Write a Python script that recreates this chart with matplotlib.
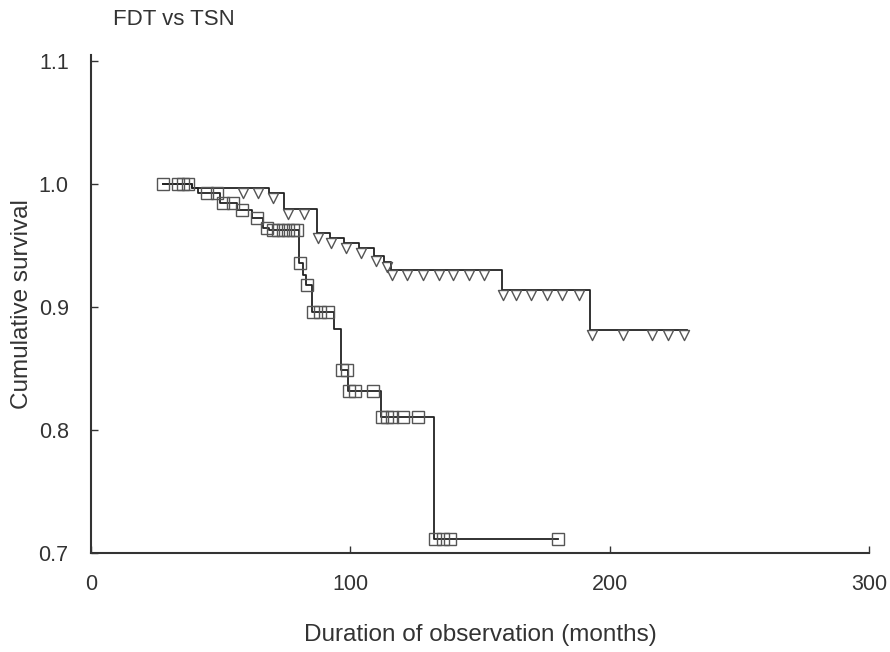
import numpy as np
import matplotlib.pyplot as plt
from matplotlib.path import Path

plt.rcParams['font.family'] = ['Liberation Sans', 'DejaVu Sans']

# group plotted with squares
sq_start = 27.8
sq_end = 180.1
sq_step_t = [39.0, 41.3, 49.7, 56.3, 62.1, 66.3, 68.8, 80.3, 81.8, 83.0,
             85.4, 93.7, 96.6, 99.3, 111.8, 132.3]
sq_step_s = [0.9967, 0.9927, 0.9846, 0.9789, 0.9724, 0.9642, 0.9626, 0.9358,
             0.9260, 0.9179, 0.8959, 0.8821, 0.8488, 0.8317, 0.8106, 0.7114]
sq_cens = [27.8, 33.6, 35.5, 37.4, 44.7, 48.6, 50.9, 54.8, 58.2, 64.0, 67.9,
           70.2, 72.1, 74.0, 76.0, 77.9, 79.4, 80.6, 83.3, 85.8, 88.3, 91.4,
           96.9, 98.7, 99.6, 101.8, 108.8, 112.2, 114.2, 116.1, 120.3, 126.1,
           132.7, 135.8, 138.4, 180.1]

# group plotted with triangles
tr_start = 27.8
tr_end = 229.8
tr_step_t = [39.0, 68.5, 74.5, 87.0, 92.0, 97.5, 103.5, 109.0, 113.0, 115.8,
             158.5, 192.4]
tr_step_s = [0.9967, 0.9927, 0.9797, 0.9602, 0.9561, 0.9520, 0.9480, 0.9415,
             0.9366, 0.9301, 0.9138, 0.8813]
tr_cens = [58.6, 64.4, 70.0, 76.0, 82.0, 87.5, 92.5, 98.3, 104.0, 110.0,
           114.0, 116.1, 121.9, 128.0, 134.2, 139.6, 145.8, 151.6, 158.8,
           164.0, 169.7, 175.9, 181.6, 188.2, 193.2, 205.2, 216.4, 222.5, 228.7]

yticks = [0.7, 0.8, 0.9, 1.0, 1.1]
ytick_labels = ['0.7', '0.8', '0.9', '1.0', '1.1']
xticks = [0, 100, 200, 300]


def km_line(start, end, step_t, step_s):
    x = np.array([start] + step_t + [end])
    y = np.array([1.0] + step_s + [step_s[-1]])
    return x, y


def level_at(x, y, t):
    i = np.searchsorted(x, t, side='right') - 1
    return y[np.clip(i, 0, len(y) - 1)]


fig = plt.figure(figsize=(8.9, 6.52), dpi=100)
ax = fig.add_axes([0.1022, 0.1518, 0.8742, 0.7638])

# triangle hanging below its point
tri = Path([(-0.5, 0), (0.5, 0), (0, -1), (-0.5, 0)],
           [Path.MOVETO, Path.LINETO, Path.LINETO, Path.CLOSEPOLY])

sx, sy = km_line(sq_start, sq_end, sq_step_t, sq_step_s)
tx, ty = km_line(tr_start, tr_end, tr_step_t, tr_step_s)

ax.step(sx, sy, where='post', color='#222222', lw=1.3, zorder=3)
ax.step(tx, ty, where='post', color='#222222', lw=1.3, zorder=3)

sq_c = np.array(sq_cens)
tr_c = np.array(tr_cens)
ax.plot(sq_c, level_at(sx, sy, sq_c), ls='none', marker='s', ms=8,
        mfc='none', mec='#555555', mew=1.0, zorder=4)
ax.plot(tr_c, level_at(tx, ty, tr_c), ls='none', marker=tri, ms=14.5,
        mfc='none', mec='#555555', mew=1.0, zorder=4)

ax.set_xlim(0, 300)
ax.set_ylim(0.7, 1.1049)
ax.set_xticks(xticks)
ax.set_yticks(yticks)
ax.set_yticklabels(ytick_labels)

for s in ['top', 'right']:
    ax.spines[s].set_visible(False)
for s in ['left', 'bottom']:
    ax.spines[s].set_linewidth(1.5)
    ax.spines[s].set_color('#333333')

ax.tick_params(direction='in', length=5, width=1.0, colors='#333333',
               labelsize=15.5, labelcolor='#333333')
ax.tick_params(axis='y', pad=16)
ax.tick_params(axis='x', pad=15)

ax.set_xlabel('Duration of observation (months)', fontsize=17.5,
              color='#333333', labelpad=21)
ax.set_ylabel('Cumulative survival', fontsize=17.5, color='#333333',
              labelpad=4)
fig.text(0.127, 1 - 25 / 652, 'FDT vs TSN', fontsize=16, color='#333333',
         va='baseline', ha='left')

fig.savefig('out.png', dpi=100)
